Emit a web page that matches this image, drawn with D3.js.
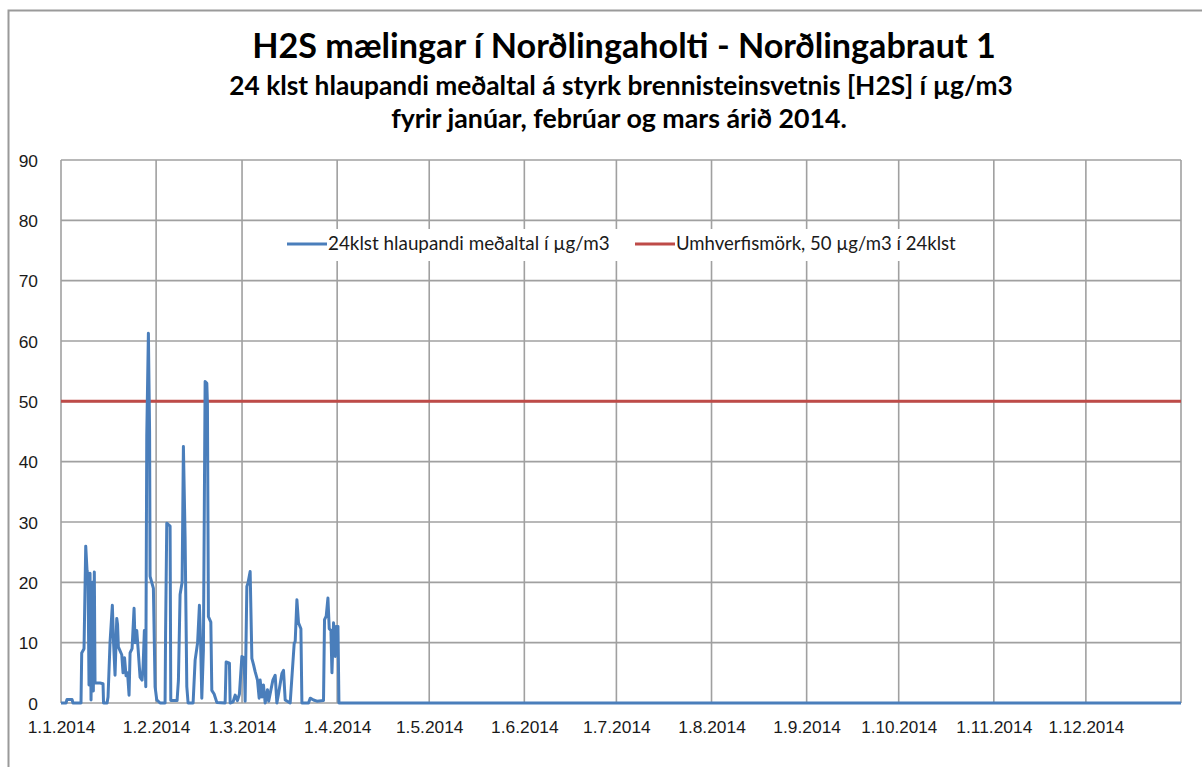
<!DOCTYPE html>
<html>
<head>
<meta charset="utf-8">
<script src="https://cdn.jsdelivr.net/npm/d3@7"></script>
<style>
body { margin:0; background:#fff; }
svg { display:block; font-family: Lato, "Noto Sans", sans-serif; }
.tick text { fill:#1a1a1a; }
</style>
</head>
<body>
<svg id="chart"></svg>
<script>
var titles = [
    "H2S mælingar í Norðlingaholti - Norðlingabraut 1",
    "24 klst hlaupandi meðaltal á styrk brennisteinsvetnis [H2S] í µg/m3",
    "fyrir janúar, febrúar og mars árið 2014."
]
var legendNames = ["24klst hlaupandi meðaltal í µg/m3", "Umhverfismörk, 50 µg/m3 í 24klst"]

// days after 1.1.2014 and the running mean
var days = [0,1.63,1.96,3.59,3.91,6.52,6.75,7.5,8.06,8.48,8.81,9.13,9.46,9.79,10.28,10.54,10.86,11.09,12.72,13.70,
    13.86,15.01,15.33,15.98,16.73,17.13,17.61,18.17,18.43,18.69,19.80,20.22,20.71,21.20,21.69,22.18,22.51,23.16,23.81,24.14,
    24.69,25.12,25.77,26.42,26.75,27.17,27.63,27.95,28.48,28.87,29.03,30.11,30.66,31.21,32.29,33.92,34.08,34.47,35.55,35.78,
    37.83,38.26,38.81,39.47,39.89,40.44,41.00,41.42,43.05,43.71,44.52,45.11,45.50,45.89,46.41,46.97,47.52,47.72,48.04,48.83,
    49.15,49.90,50.78,53.49,53.82,54.89,55.12,56.10,56.75,57.50,58.15,58.94,59.69,60.01,60.57,60.99,61.64,62.20,62.72,63.27,
    64.03,64.58,64.91,65.46,65.98,66.54,67.29,67.68,69.05,69.80,70.35,70.88,71.99,72.51,73.06,74.69,76.00,76.32,76.88,77.40,
    78.18,78.51,80.66,81.22,82.29,83.40,85.55,85.88,86.43,86.99,87.42,87.97,88.30,88.82,89.38,89.71,90.26,90.58,365]
var values = [0,0,0.6,0.6,0,0,8.3,9,26,22,21,3,21.5,0.5,20,2,21.7,3.3,3.3,3.2,
    0,0,1,10,16.2,10,4.6,14,13,9.3,8,5,7.5,4.5,5,1.3,8.3,9,15.7,10,
    12,9,4.3,3.8,6,12,2.7,44.2,61.3,45,21,19,2.7,0.5,0,0,11.5,29.8,29.3,0.4,
    0.4,3.7,18,20,42.5,27.5,2.7,0,0,7.1,10,16.2,10,0.8,8.8,53.3,53,49.6,14.3,13.4,
    2.1,1.5,0.1,0,6.8,6.6,0,0.2,1.3,0.4,1.5,7.7,7.5,0.3,19.3,20,21.8,7.4,6.4,5.2,
    3.8,0.8,3.8,1,3,0,2.2,0.3,3.8,4.6,0,1.5,4.9,5.4,0.5,0,9.9,10.2,17.1,13.3,
    12.3,0,0,0.8,0.5,0.3,0.4,13.8,14.4,17.4,12.3,12,5,13.3,7.7,12.7,12.7,0,0]
var limitValue = 50
var yTicks = [0,10,20,30,40,50,60,70,80,90]
var monthTicks = ["2014-01-01","2014-02-01","2014-03-01","2014-04-01","2014-05-01","2014-06-01",
    "2014-07-01","2014-08-01","2014-09-01","2014-10-01","2014-11-01","2014-12-01"]

var parseDay = d3.timeParse("%Y-%m-%d")
var start = parseDay("2014-01-01")
var points = days.map(function(d,i)
{
    return {date:new Date(start.getTime()+d*864e5), value:values[i]}
})

var fitText = function(sel,width)
{
    var size = parseFloat(sel.style("font-size"))
    var w = sel.node().getComputedTextLength()
    sel.style("font-size", (size*width/w)+"px")
}

var screen = {width:1202,height:767}
var plot = {left:61,right:1181,top:160,bottom:703}

var svg = d3.select("#chart")
    .attr("width",screen.width)
    .attr("height",screen.height)

svg.append("rect")
    .attr("x",8.5).attr("y",10.5)
    .attr("width",screen.width)
    .attr("height",screen.height)
    .attr("fill","#fff")
    .attr("stroke","#9a9a9a")
    .attr("stroke-width",2)

var xScale = d3.scaleTime()
    .domain([start, parseDay("2015-01-01")])
    .range([plot.left,plot.right])

var yScale = d3.scaleLinear()
    .domain([0,90])
    .range([plot.bottom,plot.top])

// grid
svg.append("g")
    .selectAll("line")
    .data(yTicks)
    .enter()
    .append("line")
    .attr("x1",plot.left).attr("x2",plot.right)
    .attr("y1",function(d){return yScale(d)})
    .attr("y2",function(d){return yScale(d)})
    .attr("stroke","#a0a0a0")
    .attr("stroke-width",1.6)

var gridDates = monthTicks.map(parseDay).concat([parseDay("2015-01-01")])
svg.append("g")
    .selectAll("line")
    .data(gridDates)
    .enter()
    .append("line")
    .attr("x1",function(d){return xScale(d)})
    .attr("x2",function(d){return xScale(d)})
    .attr("y1",plot.top).attr("y2",plot.bottom)
    .attr("stroke","#a0a0a0")
    .attr("stroke-width",1.6)

// axes
var yAxis = d3.axisLeft(yScale)
    .tickValues(yTicks)
    .tickSize(0)
    .tickPadding(23)
var gy = svg.append("g")
    .attr("transform","translate("+plot.left+",0)")
    .call(yAxis)
gy.select(".domain").remove()
gy.selectAll("text").style("font-size","16px").attr("dy","0.36em")

var xAxis = d3.axisBottom(xScale)
    .tickValues(monthTicks.map(parseDay))
    .tickFormat(d3.timeFormat("%-d.%-m.%Y"))
    .tickSize(0)
    .tickPadding(18)
var gx = svg.append("g")
    .attr("transform","translate(0,"+plot.bottom+")")
    .call(xAxis)
gx.select(".domain").remove()
gx.selectAll("text").style("font-size","16px")
gx.selectAll("text").each(function()
{
    var t = d3.select(this)
    fitText(t, t.text().length*8.45)
})
gy.selectAll("text").style("font-size",gx.select("text").style("font-size"))

// limit and series
svg.append("line")
    .attr("x1",plot.left).attr("x2",plot.right)
    .attr("y1",yScale(limitValue)).attr("y2",yScale(limitValue))
    .attr("stroke","#be4b48")
    .attr("stroke-width",3)

var line = d3.line()
    .x(function(d){return xScale(d.date)})
    .y(function(d){return yScale(d.value)})

svg.append("path")
    .datum(points)
    .attr("d",line)
    .attr("fill","none")
    .attr("stroke","#4a7ebb")
    .attr("stroke-width",3)
    .attr("stroke-linejoin","round")

// legend
var legend = svg.append("g")
svg.append("rect")
    .attr("x",280).attr("y",229)
    .attr("width",682).attr("height",32)
    .attr("fill","#fff")
var legendColors = ["#4a7ebb","#be4b48"]
var legendX = [287,635]
var legendW = [282,280]
legendNames.forEach(function(name,i)
{
    svg.append("line")
        .attr("x1",legendX[i]).attr("x2",legendX[i]+40)
        .attr("y1",244).attr("y2",244)
        .attr("stroke",legendColors[i])
        .attr("stroke-width",3)
    var t = svg.append("text")
        .text(name)
        .attr("x",legendX[i]+41)
        .attr("y",250)
        .style("font-size","16px")
        .attr("fill","#1a1a1a")
    fitText(t,legendW[i])
})

// titles
var titleY = [58,95,128]
var titleW = [744,784,456]
var titleX = [624,621,619]
titles.forEach(function(s,i)
{
    var t = svg.append("text")
        .text(s)
        .attr("x",titleX[i])
        .attr("y",titleY[i])
        .attr("text-anchor","middle")
        .style("font-weight","bold")
        .style("font-size",i==0?"32px":"22px")
        .attr("fill","#000")
    fitText(t,titleW[i])
})
</script>
</body>
</html>
